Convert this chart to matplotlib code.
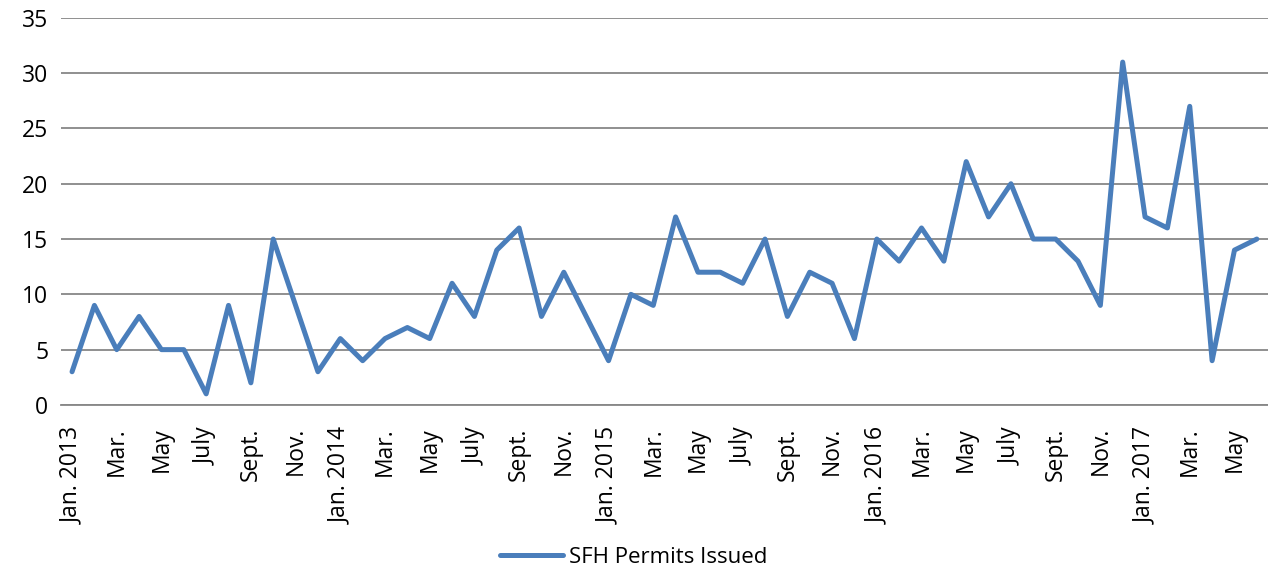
import matplotlib.pyplot as plt
import numpy as np

# Monthly SFH permits, Jan 2013 - June 2017
permits = [3, 9, 5, 8, 5, 5, 1, 9, 2, 15, 9, 3,
           6, 4, 6, 7, 6, 11, 8, 14, 16, 8, 12, 8,
           4, 10, 9, 17, 12, 12, 11, 15, 8, 12, 11, 6,
           15, 13, 16, 13, 22, 17, 20, 15, 15, 13, 9, 31,
           17, 16, 27, 4, 14, 15]

tick_labels = ["Jan. 2013", "Mar.", "May", "July", "Sept.", "Nov.",
               "Jan. 2014", "Mar.", "May", "July", "Sept.", "Nov.",
               "Jan. 2015", "Mar.", "May", "July", "Sept.", "Nov.",
               "Jan. 2016", "Mar.", "May", "July", "Sept.", "Nov.",
               "Jan. 2017", "Mar.", "May"]

plt.rcParams['font.family'] = ['Open Sans', 'DejaVu Sans']

fig = plt.figure(figsize=(12.68, 5.76), dpi=100)
ax = fig.add_axes([0.048, 0.297, 0.952, 0.672])

x = np.arange(len(permits))
ax.plot(x, permits, color='#4A7EBB', linewidth=3.6, solid_joinstyle='round',
        solid_capstyle='round', label='SFH Permits Issued')

ax.set_xlim(-0.5, len(permits) - 0.5)
ax.set_ylim(0, 35)
ax.set_yticks(range(0, 36, 5))
ax.set_xticks(x[::2])
ax.set_xticklabels(tick_labels, rotation=90)
ax.tick_params(axis='both', length=0, labelsize=16.5, colors='black')
ax.tick_params(axis='y', pad=9)
ax.tick_params(axis='x', pad=16)

ax.grid(axis='y', color='#878787', linewidth=1.3)
ax.set_axisbelow(True)
for s in ['top', 'right', 'left']:
    ax.spines[s].set_visible(False)
ax.spines['bottom'].set_color('#878787')
ax.spines['bottom'].set_linewidth(1.3)

fig.legend(loc='lower center', bbox_to_anchor=(0.5, -0.02), frameon=False,
           fontsize=16, handlelength=2.8, handletextpad=0.3)

fig.savefig('out.png', dpi=100)
